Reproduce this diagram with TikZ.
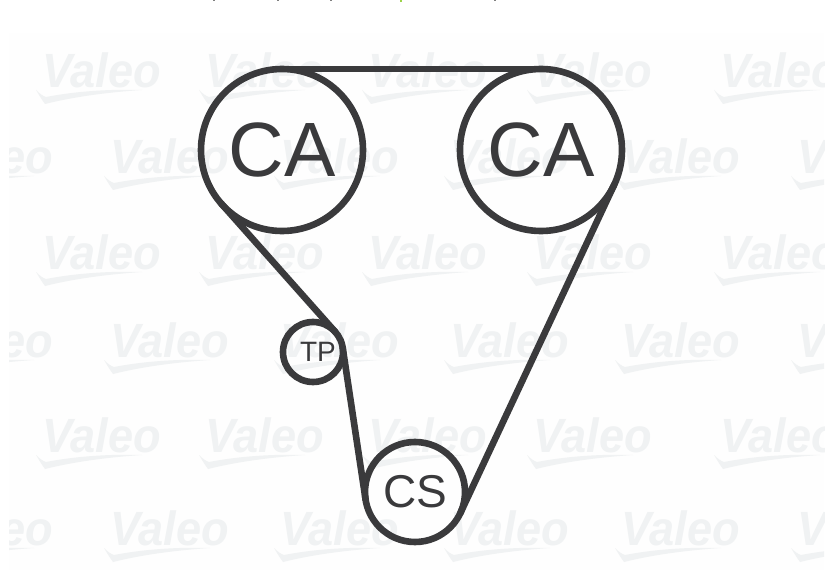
\documentclass[tikz,border=0pt]{standalone}
\usepackage{fontspec}
\setmainfont{Liberation Sans}
\usetikzlibrary{positioning}
\definecolor{beltgray}{HTML}{3A3A3C}
\definecolor{markgray}{HTML}{F0F2F3}
\definecolor{sheetgray}{HTML}{FEFEFE}
\definecolor{speckgreen}{HTML}{9CD34A}
\begin{document}
\begin{tikzpicture}[
x=1pt,
y=-1pt,
pulley/.style={
  draw=beltgray,
  circle,
  line width=6.6pt,
  inner sep=0pt,
  outer sep=0pt,
  text=beltgray
  },
belt/.style={
  draw=beltgray,
  line width=6.6pt,
  line cap=round
  },
wmark/.pic={
  \node[anchor=west,inner sep=0pt,text=markgray,xscale=0.94,transform shape,
    font=\fontsize{48}{48}\selectfont\bfseries\itshape] (-txt) at (0,0) {Valeo};
  \fill[markgray] (-6,20) .. controls (-2,24) and (1,26) .. (4,27)
    .. controls (35,21) and (70,19) .. (100,20)
    .. controls (70,22) and (35,26) .. (3,34) .. controls (0,30) and (-3,25) .. cycle;
  }
]
\useasboundingbox (0,0) rectangle (838,588);
\fill[white] (0,0) rectangle (838,588);
\foreach \speckx in {213,277,330,494}
  \fill[gray] (\speckx,0) rectangle +(2,1.5);
\fill[speckgreen] (400,0) rectangle +(2,2);
\begin{scope}
\clip (9,33) rectangle (824,570);
\fill[sheetgray] (9,33) rectangle (824,570);
\foreach \rowy in {70,252,435}
  \foreach \colx in {42,205,368,533,720}
    \pic (wa\rowy-\colx) at (\colx,\rowy) {wmark};
\foreach \rowy in {156,340,528}
  \foreach \colx in {-66,110,280,450,621,797}
    \pic (wb\rowy-\colx) at (\colx,\rowy) {wmark};
\end{scope}
\node[pulley,minimum size=162pt,font=\fontsize{77}{77}\selectfont] (ca1) at (282,150) {CA};
\node[pulley,minimum size=162pt,font=\fontsize{77}{77}\selectfont] (ca2) at (541,150) {CA};
\node[pulley,minimum size=60pt,font=\fontsize{28}{28}\selectfont] (tp) at (313,352) {\hspace*{10pt}TP};
\node[pulley,minimum size=100pt,font=\fontsize{46}{46}\selectfont] (cs) at (415,492) {CS};
\draw[belt] (ca1.north) -- (ca2.north);
\draw[belt] (ca1.221) -- (tp.41);
\draw[belt] (tp.9) -- (cs.189);
\draw[belt] (ca2.335) -- (cs.335);
\end{tikzpicture}
\end{document}
